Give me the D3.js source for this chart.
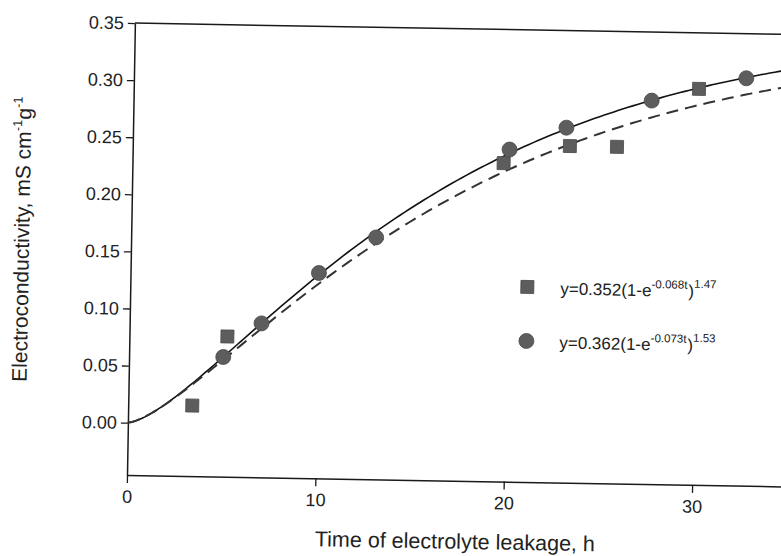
<!DOCTYPE html>
<html>
<head>
<meta charset="utf-8">
<script src="https://cdn.jsdelivr.net/npm/d3@7"></script>
<style>
  body { margin: 0; background: #fff; }
  svg { display: block; font-family: "Liberation Sans", Arial, sans-serif; }
</style>
</head>
<body>
<script>
// measured points (hours, mS cm-1 g-1)
var squareTime = [3.4, 5.2, 19.7, 23.2, 25.7, 30.0];
var squareValue = [0.016, 0.077, 0.233, 0.249, 0.249, 0.301];
var circleTime = [5.0, 7.0, 10.0, 13.0, 20.0, 23.0, 27.5, 32.5];
var circleValue = [0.059, 0.089, 0.134, 0.166, 0.245, 0.265, 0.290, 0.311];

// fitted curves y = a(1-e^(-bt))^c, as printed in the legend
var squareFit = [0.352, 0.068, 1.47];
var circleFit = [0.362, 0.073, 1.53];

var xTicks = [0, 10, 20, 30];
var yTicks = [0.00, 0.05, 0.10, 0.15, 0.20, 0.25, 0.30, 0.35];

var settings = {
  width: 781,
  height: 556,
  left: 127,
  top: 23,
  bottom: 475,
  tilt: 1   // the scanned figure sits about one degree off
};

var svg = d3.select('body').append('svg')
  .attr('width', settings.width)
  .attr('height', settings.height);

var chart = svg.append('g')
  .attr('transform', 'rotate(' + settings.tilt + ',' + settings.left + ',' + settings.bottom + ')');

var x = d3.scaleLinear().domain([0, 40]).range([settings.left, settings.left + 40 * 18.84]);
var y = d3.scaleLinear().domain([-0.0458, 0.35]).range([settings.bottom, settings.top]);

// top frame line
chart.append('line')
  .attr('x1', x(0)).attr('x2', x(40))
  .attr('y1', y(0.35)).attr('y2', y(0.35))
  .style('stroke', '#1a1a1a')
  .style('stroke-width', 1.5);

var xAxis = chart.append('g')
  .attr('transform', 'translate(0,' + settings.bottom + ')')
  .call(d3.axisBottom(x).tickValues(xTicks).tickFormat(d3.format('d')).tickSize(8).tickPadding(7).tickSizeOuter(0));

var yAxis = chart.append('g')
  .attr('transform', 'translate(' + settings.left + ',0)')
  .call(d3.axisLeft(y).tickValues(yTicks).tickFormat(d3.format('.2f')).tickSize(7).tickPadding(4).tickSizeOuter(0));

[xAxis, yAxis].forEach(function(axis){
  axis.select('.domain').style('stroke', '#1a1a1a').style('stroke-width', 1.5);
  axis.selectAll('.tick line').style('stroke', '#1a1a1a').style('stroke-width', 1.3);
  axis.selectAll('.tick text')
    .style('font-family', '"Liberation Sans", Arial, sans-serif')
    .style('font-size', '18px')
    .style('fill', '#222');
});

// fitted curves
var curveTimes = d3.range(0, 40.01, 0.25);
var fitLine = function(fit){
  return d3.line()
    .x(function(t){return x(t);})
    .y(function(t){return y(fit[0] * Math.pow(1 - Math.exp(-fit[1] * t), fit[2]));})
    .curve(d3.curveBasis)(curveTimes);
};

chart.append('path')
  .attr('d', fitLine(circleFit))
  .style('fill', 'none')
  .style('stroke', '#111')
  .style('stroke-width', 1.6);

chart.append('path')
  .attr('d', fitLine(squareFit))
  .style('fill', 'none')
  .style('stroke', '#333')
  .style('stroke-width', 2)
  .style('stroke-dasharray', '12,7');

// points
var markerFill = '#5d5d5d';
var squareSize = 13;

chart.selectAll('rect.square').data(squareTime)
  .enter().append('rect')
    .attr('class', 'square')
    .attr('x', function(item){return x(item) - squareSize / 2;})
    .attr('y', function(item, i){return y(squareValue[i]) - squareSize / 2;})
    .attr('width', squareSize)
    .attr('height', squareSize)
    .style('fill', markerFill)
    .style('stroke', '#4a4a4a')
    .style('stroke-width', 0.8);

chart.selectAll('circle.point').data(circleTime)
  .enter().append('circle')
    .attr('class', 'point')
    .attr('cx', function(item){return x(item);})
    .attr('cy', function(item, i){return y(circleValue[i]);})
    .attr('r', 7.5)
    .style('fill', markerFill)
    .style('stroke', '#4a4a4a')
    .style('stroke-width', 0.8);

// legend
var legendRows = [
  {shape: 'square', fit: squareFit, y: 280},
  {shape: 'circle', fit: circleFit, y: 334}
];

legendRows.forEach(function(row){
  if(row.shape === 'square'){
    chart.append('rect')
      .attr('x', 524 - squareSize / 2).attr('y', row.y - squareSize / 2)
      .attr('width', squareSize).attr('height', squareSize)
      .style('fill', markerFill).style('stroke', '#4a4a4a').style('stroke-width', 0.8);
  } else {
    chart.append('circle')
      .attr('cx', 524).attr('cy', row.y).attr('r', 7.5)
      .style('fill', markerFill).style('stroke', '#4a4a4a').style('stroke-width', 0.8);
  }
  var label = chart.append('text')
    .attr('x', 557)
    .attr('y', row.y + 7)
    .style('font-size', '17px')
    .style('fill', '#222');
  label.append('tspan').text('y=' + row.fit[0].toFixed(3) + '(1-e');
  label.append('tspan').attr('dy', -8).style('font-size', '11.5px').text('-' + row.fit[1].toFixed(3) + 't');
  label.append('tspan').attr('dy', 8).attr('dx', 1).text(')');
  label.append('tspan').attr('dy', -9).style('font-size', '11.5px').text(row.fit[2].toFixed(2));
});

// axis titles
chart.append('text')
  .attr('x', 456)
  .attr('y', 543)
  .attr('text-anchor', 'middle')
  .style('font-size', '21.5px')
  .style('fill', '#222')
  .text('Time of electrolyte leakage, h');

var yTitle = chart.append('text')
  .attr('transform', 'translate(25,241) rotate(-90)')
  .attr('text-anchor', 'middle')
  .style('font-size', '21px')
  .style('fill', '#222');
yTitle.append('tspan').text('Electroconductivity, mS cm');
yTitle.append('tspan').attr('dy', -9).style('font-size', '13px').text('-1');
yTitle.append('tspan').attr('dy', 9).text('g');
yTitle.append('tspan').attr('dy', -9).style('font-size', '13px').text('-1');
</script>
</body>
</html>
